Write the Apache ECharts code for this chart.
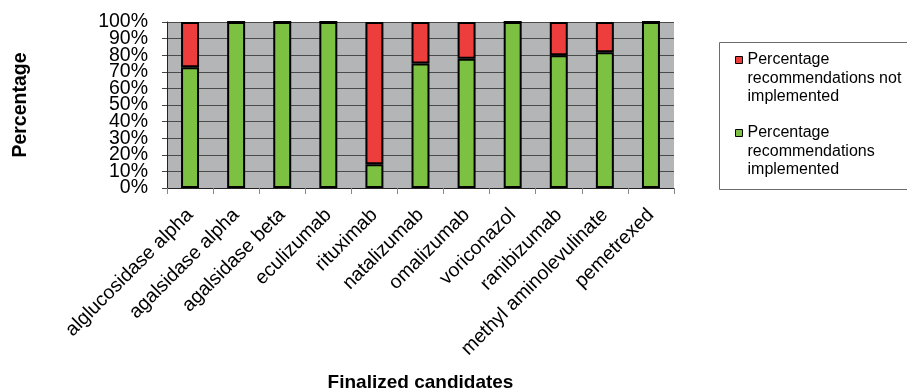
<!DOCTYPE html>
<html>
<head>
<meta charset="utf-8">
<script src="https://cdn.jsdelivr.net/npm/echarts@6/dist/echarts.min.js"></script>
<style>
  html, body { margin: 0; padding: 0; background: #fff; }
  #chart { width: 907px; height: 390px; }
</style>
</head>
<body>
<div id="chart"></div>
<script>
// Finalized candidates and the share of recommendations implemented / not implemented
const candidates = [
  'alglucosidase alpha', 'agalsidase alpha', 'agalsidase beta', 'eculizumab',
  'rituximab', 'natalizumab', 'omalizumab', 'voriconazol', 'ranibizumab',
  'methyl aminolevulinate', 'pemetrexed'
];
const implemented    = [72.7, 100, 100, 100, 14.3, 75, 77.8, 100, 80, 81.8, 100];
const notImplemented = [27.3, 0, 0, 0, 85.7, 25, 22.2, 0, 20, 18.2, 0];

const nameNot = 'Percentage recommendations not implemented';
const nameImpl = 'Percentage recommendations implemented';
// Legend text broken over lines; two leading blank lines keep the first
// line level with the legend swatch (the label block is centred on it)
const legendLines = {};
legendLines[nameNot] = '\n\nPercentage\nrecommendations not\nimplemented';
legendLines[nameImpl] = '\n\nPercentage\nrecommendations\nimplemented';

const FONT = '"Liberation Sans", Arial, sans-serif';
const LH = 18.5;

const chart = echarts.init(document.getElementById('chart'), null, { renderer: 'canvas' });

// Percent tick labels are packed tighter than their line height, so the even
// and odd ticks are labelled by two coincident value axes.
const pctLabel = (showEven) => ({
  formatter: v => ((v / 10) % 2 === 0) === showEven ? v + '%' : '',
  fontSize: 19.5, color: '#000', fontFamily: FONT, margin: 19,
  showMinLabel: showEven, showMaxLabel: showEven
});

chart.setOption({
  animation: false,
  backgroundColor: '#ffffff',
  textStyle: { fontFamily: FONT, color: '#000' },
  grid: {
    left: 167, right: 233, top: 22, bottom: 202,
    show: true, backgroundColor: '#b3b5b7', borderWidth: 0,
    outerBoundsMode: 'none'
  },
  legend: {
    orient: 'vertical',
    left: 735, top: 13.75,
    padding: 0,
    itemWidth: 7, itemHeight: 7,
    itemGap: -19.5,
    icon: 'rect',
    data: [nameNot, nameImpl],
    formatter: n => legendLines[n],
    textStyle: { fontFamily: FONT, fontSize: 16, color: '#000', lineHeight: LH },
    itemStyle: { borderColor: '#000', borderWidth: 1 }
  },
  graphic: [{
    type: 'rect', left: 717, top: 40,
    shape: { width: 188, height: 147 },
    style: { fill: 'none', stroke: '#6b6b6b', lineWidth: 1 },
    silent: true
  }],
  xAxis: {
    type: 'category',
    data: candidates,
    name: 'Finalized candidates',
    nameLocation: 'middle',
    nameGap: 185,
    nameTextStyle: { fontFamily: FONT, fontSize: 19, fontWeight: 'bold', color: '#000' },
    axisLine: { show: true, lineStyle: { color: '#222', width: 1 } },
    axisTick: { show: true, length: 6, lineStyle: { color: '#888' } },
    axisLabel: { rotate: 45, fontSize: 19.5, color: '#000', fontFamily: FONT, margin: 24, interval: 0 },
    splitLine: { show: false }
  },
  yAxis: [
    {
      type: 'value',
      position: 'left',
      min: 0, max: 100, interval: 10,
      name: 'Percentage',
      nameLocation: 'middle',
      nameGap: 136,
      nameRotate: 90,
      nameTextStyle: { fontFamily: FONT, fontSize: 19.5, fontWeight: 'bold', color: '#000' },
      axisLine: { show: true, lineStyle: { color: '#222', width: 1 } },
      axisTick: { show: true, length: 5, lineStyle: { color: '#444' } },
      axisLabel: pctLabel(true),
      splitLine: { show: true, lineStyle: { color: '#4a4a4a', width: 1 } }
    },
    {
      type: 'value',
      position: 'left',
      offset: 0,
      min: 0, max: 100, interval: 10,
      axisLine: { show: false },
      axisTick: { show: true, length: 5, lineStyle: { color: '#444' } },
      axisLabel: pctLabel(false),
      splitLine: { show: false }
    }
  ],
  series: [
    {
      name: nameImpl,
      type: 'bar',
      stack: 'total',
      barWidth: '39%',
      yAxisIndex: 0,
      data: implemented,
      itemStyle: { color: '#7cc142', borderColor: '#000', borderWidth: 2 }
    },
    {
      name: nameNot,
      type: 'bar',
      stack: 'total',
      barWidth: '39%',
      yAxisIndex: 0,
      data: notImplemented,
      itemStyle: { color: '#ee3d3d', borderColor: '#000', borderWidth: 2 }
    }
  ]
});
</script>
</body>
</html>
